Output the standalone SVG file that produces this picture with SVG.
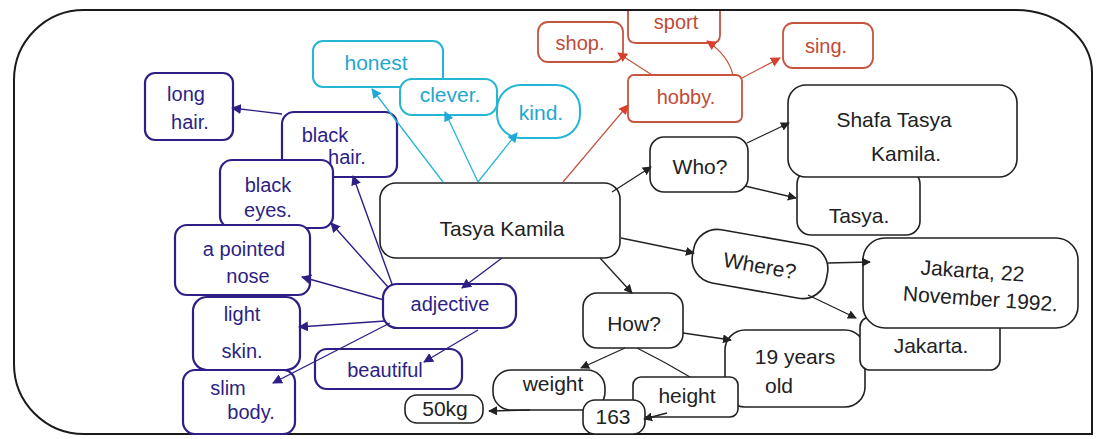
<svg xmlns="http://www.w3.org/2000/svg" width="1097" height="439" viewBox="0 0 1097 439">
<defs>
<style>
.t{font-family:"Liberation Sans","DejaVu Sans",sans-serif;text-anchor:middle}
.pb{fill:#fff;stroke:#2d1f85;stroke-width:2.2}
.cb{fill:#fff;stroke:#25b6d4;stroke-width:2}
.rb{fill:#fff;stroke:#c6553f;stroke-width:1.8}
.kb{fill:#fff;stroke:#222;stroke-width:1.6}
.pt{fill:#2d1f85;font-size:20px}
.ct{fill:#1fa8cc;font-size:21px}
.rt{fill:#c24a36;font-size:20px}
.kt{fill:#222;font-size:21px}
.pl{fill:none;stroke:#2d1f85;stroke-width:1.4}
.cl{fill:none;stroke:#25b6d4;stroke-width:1.3}
.rl{fill:none;stroke:#c6553f;stroke-width:1.2}
.kl{fill:none;stroke:#222;stroke-width:1.3}
</style>
<marker id="ap" viewBox="0 0 10 10" refX="9" refY="5" markerWidth="10" markerHeight="10" markerUnits="userSpaceOnUse" orient="auto"><path d="M0,0 L10,5 L0,10 Z" fill="#2d1f85"/></marker>
<marker id="ac" viewBox="0 0 10 10" refX="9" refY="5" markerWidth="10" markerHeight="10" markerUnits="userSpaceOnUse" orient="auto"><path d="M0,0 L10,5 L0,10 Z" fill="#1fa8d8"/></marker>
<marker id="ar" viewBox="0 0 10 10" refX="9" refY="5" markerWidth="10" markerHeight="10" markerUnits="userSpaceOnUse" orient="auto"><path d="M0,0 L10,5 L0,10 Z" fill="#d8402c"/></marker>
<marker id="ak" viewBox="0 0 10 10" refX="9" refY="5" markerWidth="9" markerHeight="9" markerUnits="userSpaceOnUse" orient="auto"><path d="M0,0 L10,5 L0,10 Z" fill="#222"/></marker>
</defs>
<rect width="1097" height="439" fill="#fff"/>
<path d="M14,80 A70,70 0 0 1 84,10 L1015,10 A77,63 0 0 1 1092,73 L1092,434 L84,434 A70,70 0 0 1 14,364 Z" fill="none" stroke="#1a1a1a" stroke-width="2"/>

<g id="long-hair"><rect class="pb" x="145" y="73" width="88" height="67" rx="10"/><text class="t pt" x="186" y="101">long</text><text class="t pt" x="190" y="129">hair.</text></g>
<g id="black-hair"><rect class="pb" x="282" y="112" width="115" height="65" rx="12"/><text class="t pt" x="325" y="142">black</text><text class="t pt" x="347" y="164">hair.</text></g>
<g id="black-eyes"><rect class="pb" x="220" y="160" width="113" height="68" rx="12"/><text class="t pt" x="268" y="192">black</text><text class="t pt" x="268" y="217">eyes.</text></g>
<g id="pointed-nose"><rect class="pb" x="175" y="225" width="135" height="70" rx="12"/><text class="t pt" x="244" y="256" font-size="18">a pointed</text><text class="t pt" x="248" y="283">nose</text></g>
<g id="light-skin"><rect class="pb" x="193" y="297" width="107" height="73" rx="14"/><text class="t pt" x="242" y="321">light</text><text class="t pt" x="242" y="358">skin.</text></g>
<g id="slim-body"><rect class="pb" x="183" y="370" width="112" height="64" rx="12"/><text class="t pt" x="228" y="395">slim</text><text class="t pt" x="251" y="419">body.</text></g>
<g id="adjective"><rect class="pb" x="383" y="284" width="133" height="44" rx="14"/><text class="t pt" x="450" y="311">adjective</text></g>
<g id="beautiful"><rect class="pb" x="315" y="349" width="147" height="40" rx="12"/><text class="t pt" x="385" y="377">beautiful</text></g>

<g id="honest"><rect class="cb" x="313" y="41" width="130" height="46" rx="10"/><text class="t ct" x="376" y="70" font-size="23">honest</text></g>
<g id="clever"><rect class="cb" x="400" y="79" width="97" height="36" rx="12"/><text class="t ct" x="450" y="102">clever.</text></g>
<g id="kind"><rect class="cb" x="497" y="85" width="83" height="53" rx="24"/><text class="t ct" x="541" y="120">kind.</text></g>

<g id="shop"><rect class="rb" x="538" y="22" width="85" height="40" rx="10"/><text class="t rt" x="580" y="50">shop.</text></g>
<g id="sport"><path class="rb" d="M628,11 L628,35 Q628,43 636,43 L712,43 Q720,43 720,35 L720,11"/><text class="t rt" x="676" y="29">sport</text></g>
<g id="sing"><rect class="rb" x="783" y="23" width="90" height="45" rx="10"/><text class="t rt" x="826" y="53">sing.</text></g>
<g id="hobby"><rect class="rb" x="628" y="75" width="114" height="47" rx="6"/><text class="t rt" x="686" y="104" font-size="22">hobby.</text></g>

<g id="tasya-kamila"><rect class="kb" x="380" y="183" width="240" height="75" rx="16"/><text class="t kt" x="502" y="236" font-size="27">Tasya Kamila</text></g>
<g id="who"><rect class="kb" x="650" y="137" width="98" height="55" rx="14"/><text class="t kt" x="700" y="174" font-size="25">Who?</text></g>
<g id="tasya"><rect class="kb" x="797" y="170" width="123" height="65" rx="14"/><text class="t kt" x="859" y="223" font-size="24">Tasya.</text></g>
<g id="shafa"><rect class="kb" x="788" y="85" width="229" height="92" rx="18"/><text class="t kt" x="894" y="127" font-size="24">Shafa Tasya</text><text class="t kt" x="906" y="161" font-size="24">Kamila.</text></g>
<g id="where" transform="rotate(10 760 264)"><rect class="kb" x="692" y="237" width="136" height="54" rx="24"/><text class="t kt" x="760" y="273" font-size="24">Where?</text></g>
<g id="age"><rect class="kb" x="725" y="330" width="140" height="77" rx="20"/><text class="t kt" x="795" y="364">19 years</text><text class="t kt" x="779" y="393">old</text></g>
<g id="jakarta"><rect class="kb" x="860" y="317" width="140" height="53" rx="10"/><text class="t kt" x="931" y="353" font-size="23">Jakarta.</text></g>
<g id="jakarta-date"><rect class="kb" x="863" y="238" width="215" height="90" rx="22"/><text class="t kt" x="972" y="278" font-size="22" transform="rotate(4 972 278)">Jakarta, 22</text><text class="t kt" x="980" y="306" font-size="21" transform="rotate(4 980 306)">November 1992.</text></g>
<g id="how"><rect class="kb" x="583" y="293" width="100" height="55" rx="14"/><text class="t kt" x="634" y="331" font-size="25">How?</text></g>
<g id="weight"><rect class="kb" x="493" y="370" width="112" height="40" rx="18"/><text class="t kt" x="553" y="391">weight</text></g>
<g id="height"><rect class="kb" x="633" y="377" width="105" height="40" rx="8"/><text class="t kt" x="687" y="403">height</text></g>
<g id="kg"><rect class="kb" x="405" y="395" width="78" height="28" rx="12"/><text class="t kt" x="445" y="416" font-size="17">50kg</text></g>
<g id="cm"><rect class="kb" x="583" y="400" width="62" height="34" rx="12"/><text class="t kt" x="613" y="424" font-size="15">163</text></g>

<g id="connectors">
<path class="pl" d="M502,258 L462,288" marker-end="url(#ap)"/>
<path class="pl" d="M392,284 L353,176" marker-end="url(#ap)"/>
<path class="pl" d="M388,287 L331,223" marker-end="url(#ap)"/>
<path class="pl" d="M384,300 L302,277" marker-end="url(#ap)"/>
<path class="pl" d="M385,321 L299,327" marker-end="url(#ap)"/>
<path class="pl" d="M390,323 L273,383" marker-end="url(#ap)"/>
<path class="pl" d="M478,330 L424,362" marker-end="url(#ap)"/>
<path class="pl" d="M282,114 L232,108" marker-end="url(#ap)"/>
<path class="cl" d="M443,182 L372,89" marker-end="url(#ac)"/>
<path class="cl" d="M478,182 L445,112" marker-end="url(#ac)"/>
<path class="cl" d="M478,182 L517,133" marker-end="url(#ac)"/>
<path class="rl" d="M563,182 L628,105" marker-end="url(#ar)"/>
<path class="rl" d="M652,75 L618,53" marker-end="url(#ar)"/>
<path class="rl" d="M733,75 Q728,55 707,41" marker-end="url(#ar)"/>
<path class="rl" d="M742,78 L780,58" marker-end="url(#ar)"/>
<path class="kl" d="M612,192 L651,167" marker-end="url(#ak)"/>
<path class="kl" d="M747,143 L789,123" marker-end="url(#ak)"/>
<path class="kl" d="M745,186 L796,198" marker-end="url(#ak)"/>
<path class="kl" d="M621,238 L694,253" marker-end="url(#ak)"/>
<path class="kl" d="M828,263 L870,262" marker-end="url(#ak)"/>
<path class="kl" d="M808,295 L856,318" marker-end="url(#ak)"/>
<path class="kl" d="M600,258 L632,293" marker-end="url(#ak)"/>
<path class="kl" d="M683,333 L731,340" marker-end="url(#ak)"/>
<path class="kl" d="M625,348 L581,368" marker-end="url(#ak)"/>
<path class="kl" d="M637,348 Q665,362 690,377"/>
<path class="kl" d="M667,413 L644,419" marker-end="url(#ak)"/>
<path class="kl" d="M530,410 L489,411" marker-end="url(#ak)"/>
</g>
</svg>
